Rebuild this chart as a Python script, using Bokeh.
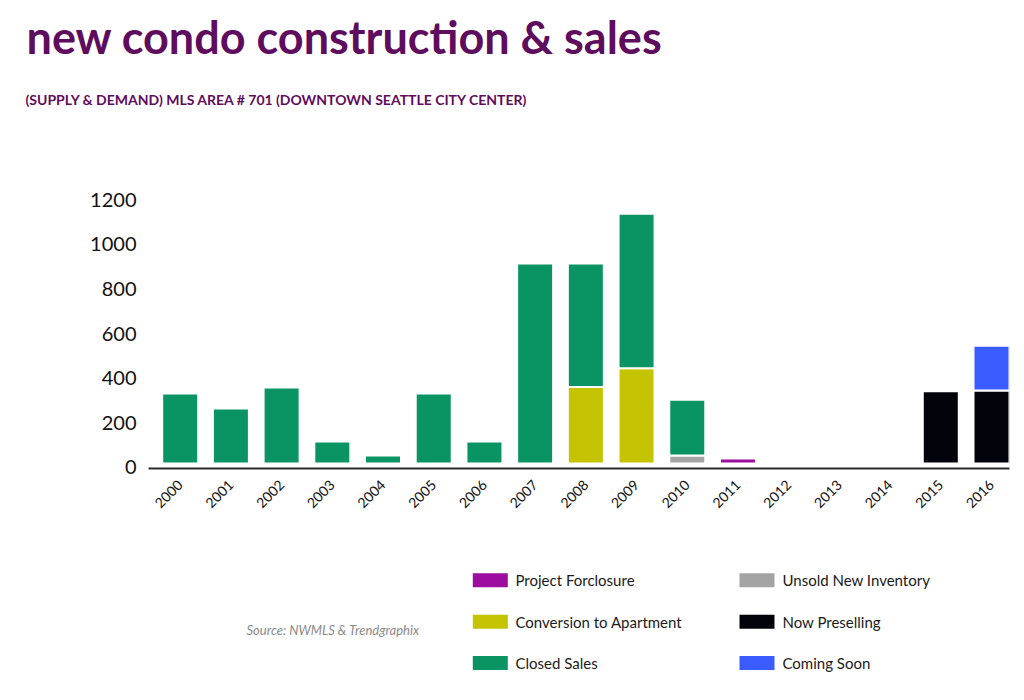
import numpy as np
from bokeh.plotting import figure
from bokeh.models import Range1d, FixedTicker, ColumnDataSource
from bokeh.embed import file_html
from bokeh.resources import INLINE
from bokeh.core.properties import value

# ---------------- data ----------------
years = [2000, 2001, 2002, 2003, 2004, 2005, 2006, 2007, 2008,
         2009, 2010, 2011, 2012, 2013, 2014, 2015, 2016]
project_forclosure = [0, 0, 0, 0, 0, 0, 0, 0, 0, 0, 0, 22, 0, 0, 0, 0, 0]
unsold_new_inventory = [0, 0, 0, 0, 0, 0, 0, 0, 0, 0, 36, 0, 0, 0, 0, 0, 0]
conversion_to_apartment = [0, 0, 0, 0, 0, 0, 0, 0, 343, 427, 0, 0, 0, 0, 0, 0, 0]
closed_sales = [314, 246, 341, 99, 36, 314, 99, 896, 553, 692, 250, 0, 0, 0, 0, 0, 0]
now_preselling = [0, 0, 0, 0, 0, 0, 0, 0, 0, 0, 0, 0, 0, 0, 0, 324, 327]
coming_soon = [0, 0, 0, 0, 0, 0, 0, 0, 0, 0, 0, 0, 0, 0, 0, 0, 201]

y_ticks = [0, 200, 400, 600, 800, 1000, 1200]

series_names = ["Project Forclosure", "Unsold New Inventory", "Conversion to Apartment",
                "Closed Sales", "Now Preselling", "Coming Soon"]
series_values = [project_forclosure, unsold_new_inventory, conversion_to_apartment,
                 closed_sales, now_preselling, coming_soon]
series_colors = ["#9c0c9e", "#a4a4a4", "#c4c402", "#0b9463", "#03030c", "#3a5cff"]

legend_col1 = ["Project Forclosure", "Conversion to Apartment", "Closed Sales"]
legend_col2 = ["Unsold New Inventory", "Now Preselling", "Coming Soon"]

TITLE = "new condo construction & sales"
SUBTITLE = "(SUPPLY & DEMAND) MLS AREA # 701 (DOWNTOWN SEATTLE CITY CENTER)"
SOURCE = "Source: NWMLS & Trendgraphix"

# ---------------- styles ----------------
W = 1016
TITLE_COLOR = "#5e0c5e"
FONT = value("Lato")
BASE = 18      # small visual gap between bars and the axis line
BAR_W = 0.71


def blank(fig):
    fig.axis.visible = False
    fig.grid.visible = False


# ---------------- header ----------------
HEAD_H = 150
head = figure(width=W, height=HEAD_H, output_backend="svg", toolbar_location=None,
              x_range=Range1d(0, W), y_range=Range1d(0, HEAD_H),
              min_border=0, outline_line_color=None)
blank(head)
head.text(x=[26], y=[HEAD_H - 36.5], text=[TITLE], text_font=FONT, text_font_style="bold",
          text_font_size="45px", text_color=TITLE_COLOR, text_baseline="middle",
          text_align="left")
head.text(x=[25], y=[HEAD_H - 99], text=[SUBTITLE], text_font=FONT, text_font_style="bold",
          text_font_size="14px", text_color=TITLE_COLOR, text_baseline="middle",
          text_align="left")

# ---------------- main chart ----------------
MAIN_H = 390
p = figure(width=W, height=MAIN_H, output_backend="svg", toolbar_location=None,
           x_range=Range1d(1999.375, 2016.355), y_range=Range1d(-4.5, 1228),
           min_border_left=148, min_border_right=7, min_border_top=43, min_border_bottom=72,
           outline_line_color=None)
p.grid.visible = False

yrs = np.array(years, dtype=float)
bottom = np.full(len(years), float(BASE))
for name, vals, col in zip(series_names, series_values, series_colors):
    v = np.array(vals, dtype=float)
    mask = v > 0
    src = ColumnDataSource(dict(x=yrs[mask], bottom=bottom[mask], top=(bottom + v)[mask]))
    p.vbar(x="x", bottom="bottom", top="top", width=BAR_W, source=src,
           fill_color=col, line_color="white", line_width=2)
    bottom = bottom + v

p.xaxis.ticker = FixedTicker(ticks=years)
p.xaxis.major_label_overrides = {y: str(y) for y in years}
p.xaxis.major_label_orientation = np.pi / 4
p.xaxis.major_label_text_font = "Lato"
p.xaxis.major_label_text_font_size = "14px"
p.xaxis.major_label_text_color = "#111111"
p.xaxis.axis_line_color = "#2a2a2a"
p.xaxis.axis_line_width = 2
p.xaxis.major_tick_line_color = None
p.xaxis.minor_tick_line_color = None
p.xaxis.major_label_standoff = 8

p.yaxis.ticker = FixedTicker(ticks=y_ticks)
p.yaxis.major_label_text_font = "Lato"
p.yaxis.major_label_text_font_size = "20px"
p.yaxis.major_label_text_color = "#111111"
p.yaxis.axis_line_color = None
p.yaxis.major_tick_line_color = None
p.yaxis.minor_tick_line_color = None
p.yaxis.major_label_standoff = 6

# ---------------- footer (legend + source) ----------------
FOOT_H = 156
foot = figure(width=W, height=FOOT_H, output_backend="svg", toolbar_location=None,
              x_range=Range1d(0, W), y_range=Range1d(0, FOOT_H),
              min_border=0, outline_line_color=None)
blank(foot)

row_y = [FOOT_H - 39.7, FOOT_H - 81.3, FOOT_H - 122.5]
col_x = [(489.8, 515), (756.5, 782)]
color_of = dict(zip(series_names, series_colors))
for (sx, tx), names in zip(col_x, [legend_col1, legend_col2]):
    foot.rect(x=[sx] * 3, y=row_y, width=35, height=14,
              fill_color=[color_of[n] for n in names], line_color=None)
    foot.text(x=[tx] * 3, y=row_y, text=names, text_font=FONT, text_font_size="15px",
              text_color="#1a1a1a", text_baseline="middle", text_align="left")

foot.text(x=[246], y=[FOOT_H - 89], text=[SOURCE], text_font=FONT, text_font_style="italic",
          text_font_size="13px", text_color="#8a8a8a", text_baseline="middle", text_align="left")

open("out.html", "w").write(file_html([head, p, foot], INLINE))
